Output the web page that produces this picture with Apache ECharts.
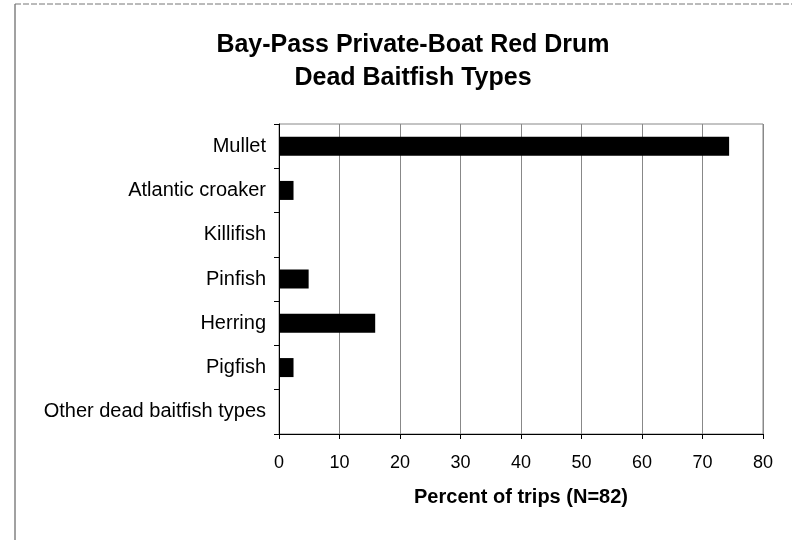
<!DOCTYPE html>
<html>
<head>
<meta charset="utf-8">
<script src="https://cdn.jsdelivr.net/npm/echarts@6/dist/echarts.min.js"></script>
<style>
  html, body { margin: 0; padding: 0; background: #fff; }
  #chart { width: 792px; height: 540px; }
</style>
</head>
<body>
<div id="chart"></div>
<script>
// 鱼饵类别
const categories = ['Mullet', 'Atlantic croaker', 'Killifish', 'Pinfish', 'Herring', 'Pigfish', 'Other dead baitfish types']
// 百分比 (N=82)
const percentValues = [74.4, 2.4, 0, 4.9, 15.9, 2.4, 0]
const xTicks = [0, 10, 20, 30, 40, 50, 60, 70, 80]

const chart = echarts.init(document.getElementById('chart'))

const options = {
  animation: false,
  backgroundColor: '#fff',
  title: {
    text: 'Bay-Pass Private-Boat Red Drum\nDead Baitfish Types',
    left: 408,
    textAlign: 'center',
    top: 24,
    textStyle: {
      fontFamily: 'Liberation Sans, Arial',
      fontWeight: 'bold',
      fontSize: 25,
      lineHeight: 33,
      color: '#000'
    }
  },
  // 外框线
  graphic: [
    { type: 'line', shape: { x1: 15, y1: 4, x2: 15, y2: 540 }, style: { stroke: '#444', lineWidth: 1 } },
    { type: 'line', shape: { x1: 15, y1: 4, x2: 792, y2: 4 }, style: { stroke: '#777', lineWidth: 1, lineDash: [6, 2] } }
  ],
  grid: {
    left: 279,
    right: 29,
    top: 124,
    bottom: 106,
    show: true,
    borderColor: '#888',
    borderWidth: 1
  },
  xAxis: {
    type: 'value',
    min: 0,
    max: 80,
    interval: 10,
    name: 'Percent of trips (N=82)',
    nameLocation: 'middle',
    nameGap: 53,
    nameTextStyle: {
      fontFamily: 'Liberation Sans, Arial',
      fontWeight: 'bold',
      fontSize: 20,
      color: '#000'
    },
    axisLine: { show: true, lineStyle: { color: '#000', width: 1 } },
    axisTick: { show: true, length: 5, lineStyle: { color: '#000' } },
    axisLabel: {
      margin: 20,
      fontFamily: 'Liberation Sans, Arial',
      fontSize: 18,
      color: '#000',
      formatter: (v) => (xTicks.includes(v) ? String(v) : '')
    },
    splitLine: { show: true, lineStyle: { color: '#888', width: 1 } }
  },
  yAxis: {
    type: 'category',
    inverse: true,
    data: categories,
    axisLine: { show: true, lineStyle: { color: '#000', width: 1 } },
    axisTick: { show: true, length: 5, lineStyle: { color: '#000' } },
    axisLabel: {
      margin: 13,
      fontFamily: 'Liberation Sans, Arial',
      fontSize: 20,
      color: '#000'
    },
    splitLine: { show: false }
  },
  series: [
    {
      type: 'bar',
      data: percentValues,
      barWidth: 19,
      itemStyle: { color: '#000' }
    }
  ]
}

chart.setOption(options)
</script>
</body>
</html>
